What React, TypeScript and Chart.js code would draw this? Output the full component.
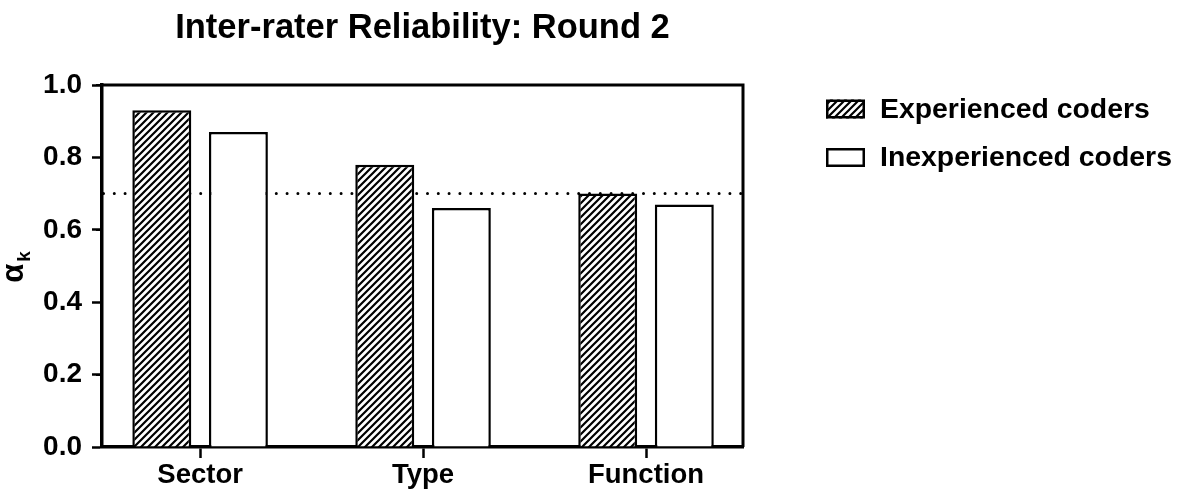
import { useEffect, useRef } from 'react';
import { Chart, registerables } from 'chart.js';

Chart.register(...registerables);

// ---- data ----
const categories: string[] = ['Sector', 'Type', 'Function'];
const seriesLabels: string[] = ['Experienced coders', 'Inexperienced coders'];
const experienced: number[] = [0.93, 0.78, 0.7];
const inexperienced: number[] = [0.87, 0.66, 0.67];
const threshold = 0.7;
const chartTitle = 'Inter-rater Reliability: Round 2';
const yTitleMain = 'α';
const yTitleSub = 'k';
const yMin = 0;
const yMax = 1;
const yStep = 0.1;
const xMin = -0.44;
const xMax = 2.435;

const FONT = '"Liberation Sans", Arial, Helvetica, sans-serif';

function makeHatch(): CanvasPattern | string {
  const size = 7;
  const c = document.createElement('canvas');
  c.width = size;
  c.height = size;
  const g = c.getContext('2d');
  if (!g) return '#fff';
  g.fillStyle = '#fff';
  g.fillRect(0, 0, size, size);
  g.strokeStyle = '#000';
  g.lineWidth = 2.2;
  g.beginPath();
  g.moveTo(-1, size + 1);
  g.lineTo(size + 1, -1);
  g.moveTo(-2, 2);
  g.lineTo(2, -2);
  g.moveTo(size - 2, size + 2);
  g.lineTo(size + 2, size - 2);
  g.stroke();
  return g.createPattern(c, 'repeat') || '#fff';
}

const thresholdPlugin = {
  id: 'thresholdLine',
  beforeDatasetsDraw(chart: any) {
    const { ctx, chartArea, scales } = chart;
    const y = scales.y.getPixelForValue(threshold);
    ctx.save();
    ctx.strokeStyle = '#000';
    ctx.lineWidth = 3;
    ctx.lineCap = 'round';
    ctx.setLineDash([0, 10.8]);
    ctx.beginPath();
    ctx.moveTo(chartArea.left + 1.5, y);
    ctx.lineTo(chartArea.right - 2, y);
    ctx.stroke();
    ctx.restore();
  },
};

const framePlugin = {
  id: 'frameAndExtras',
  afterDraw(chart: any) {
    const { ctx, chartArea, scales } = chart;
    ctx.save();
    // top and right frame
    ctx.strokeStyle = '#000';
    ctx.lineWidth = 3;
    ctx.beginPath();
    ctx.moveTo(chartArea.left, chartArea.top);
    ctx.lineTo(chartArea.right, chartArea.top);
    ctx.lineTo(chartArea.right, chartArea.bottom);
    ctx.stroke();

    // minor ticks on y axis
    ctx.lineWidth = 2;
    const ys = scales.y;
    ys.ticks.forEach((t: any, i: number) => {
      if (i % 2 === 1) {
        const py = Math.round(ys.getPixelForValue(t.value));
        ctx.beginPath();
        ctx.moveTo(chartArea.left - 6, py);
        ctx.lineTo(chartArea.left, py);
        ctx.stroke();
      }
    });

    // y axis title: alpha with subscript k
    const cy = (chartArea.top + chartArea.bottom) / 2 + 1;
    ctx.translate(23, cy);
    ctx.rotate(-Math.PI / 2);
    ctx.fillStyle = '#000';
    ctx.textBaseline = 'alphabetic';
    ctx.textAlign = 'left';
    const mainFont = `bold 31px ${FONT}`;
    const subFont = `bold 19px ${FONT}`;
    ctx.font = mainFont;
    const wa = ctx.measureText(yTitleMain).width;
    ctx.font = subFont;
    const wk = ctx.measureText(yTitleSub).width;
    const start = -(wa + 2 + wk) / 2;
    ctx.font = mainFont;
    ctx.fillText(yTitleMain, start, 0);
    ctx.font = subFont;
    ctx.fillText(yTitleSub, start + wa + 2, 6.5);
    ctx.restore();

    // legend on the right
    ctx.save();
    const boxX = chartArea.right + 83;
    const boxW = 39;
    const boxH = 19;
    const textX = chartArea.right + 137;
    chart.data.datasets.forEach((ds: any, i: number) => {
      const cyL = chartArea.top + 24 + i * 48.5;
      ctx.fillStyle = ds.backgroundColor;
      ctx.fillRect(boxX, cyL - boxH / 2, boxW, boxH);
      ctx.strokeStyle = '#000';
      ctx.lineWidth = 2.5;
      ctx.strokeRect(boxX + 1.25, cyL - boxH / 2 + 1.25, boxW - 2.5, boxH - 2.5);
      ctx.fillStyle = '#000';
      ctx.font = `bold 28.4px ${FONT}`;
      ctx.textBaseline = 'middle';
      ctx.textAlign = 'left';
      ctx.fillText(ds.label, textX, cyL + 1);
    });
    ctx.restore();
  },
};

export default function App() {
  const canvasRef = useRef<HTMLCanvasElement | null>(null);

  useEffect(() => {
    if (!canvasRef.current) return;
    const hatch = makeHatch();
    const barStyle = {
      borderColor: '#000',
      borderWidth: 2.5,
      borderSkipped: 'start' as const,
      categoryPercentage: 0.687,
      barPercentage: 0.77,
    };
    const chart = new Chart(canvasRef.current, {
      type: 'bar',
      data: {
        datasets: [
          {
            label: seriesLabels[0],
            data: experienced.map((v, i) => ({ x: i, y: v })),
            backgroundColor: hatch as any,
            ...barStyle,
          },
          {
            label: seriesLabels[1],
            data: inexperienced.map((v, i) => ({ x: i, y: v })),
            backgroundColor: '#ffffff',
            ...barStyle,
          },
        ],
      },
      options: {
        animation: false,
        responsive: true,
        maintainAspectRatio: false,
        layout: { padding: { left: 0, right: 453, top: 0, bottom: 0 } },
        plugins: {
          legend: { display: false },
          tooltip: { enabled: false },
          title: {
            display: true,
            text: chartTitle,
            fullSize: false,
            color: '#000',
            font: { family: FONT, size: 34.5, weight: 'bold' },
            padding: { top: 8, bottom: 35.6 },
          },
        },
        scales: {
          x: {
            type: 'linear',
            min: xMin,
            max: xMax,
            offset: false,
            afterBuildTicks: (scale: any) => {
              scale.ticks = categories.map((_, i) => ({ value: i }));
            },
            afterFit: (scale: any) => {
              scale.height = 44;
            },
            grid: {
              offset: false,
              drawOnChartArea: false,
              drawTicks: true,
              tickLength: 11,
              tickColor: '#000',
              tickWidth: 2.5,
            },
            border: { display: true, color: '#000', width: 3.5 },
            ticks: {
              color: '#000',
              padding: 1,
              font: { family: FONT, size: 27.5, weight: 'bold' },
              callback: (v: any) => categories[Math.round(Number(v))] ?? '',
            },
          },
          y: {
            min: yMin,
            max: yMax,
            afterFit: (scale: any) => {
              scale.width = 102;
            },
            grid: {
              drawOnChartArea: false,
              drawTicks: true,
              tickLength: 10,
              tickWidth: 2.5,
              tickColor: (c: any) => (c.index % 2 === 0 ? '#000' : 'rgba(0,0,0,0)'),
            },
            border: { display: true, color: '#000', width: 3.5 },
            ticks: {
              stepSize: yStep,
              color: '#000',
              padding: 10,
              font: { family: FONT, size: 28, weight: 'bold' },
              callback: (v: any, i: number) => (i % 2 === 0 ? Number(v).toFixed(1) : ''),
            },
          },
        },
      },
      plugins: [thresholdPlugin, framePlugin],
    });
    return () => chart.destroy();
  }, []);

  return (
    <div style={{ position: 'fixed', left: 0, top: 0, width: 1196, height: 491, background: '#fff' }}>
      <canvas ref={canvasRef} />
    </div>
  );
}
